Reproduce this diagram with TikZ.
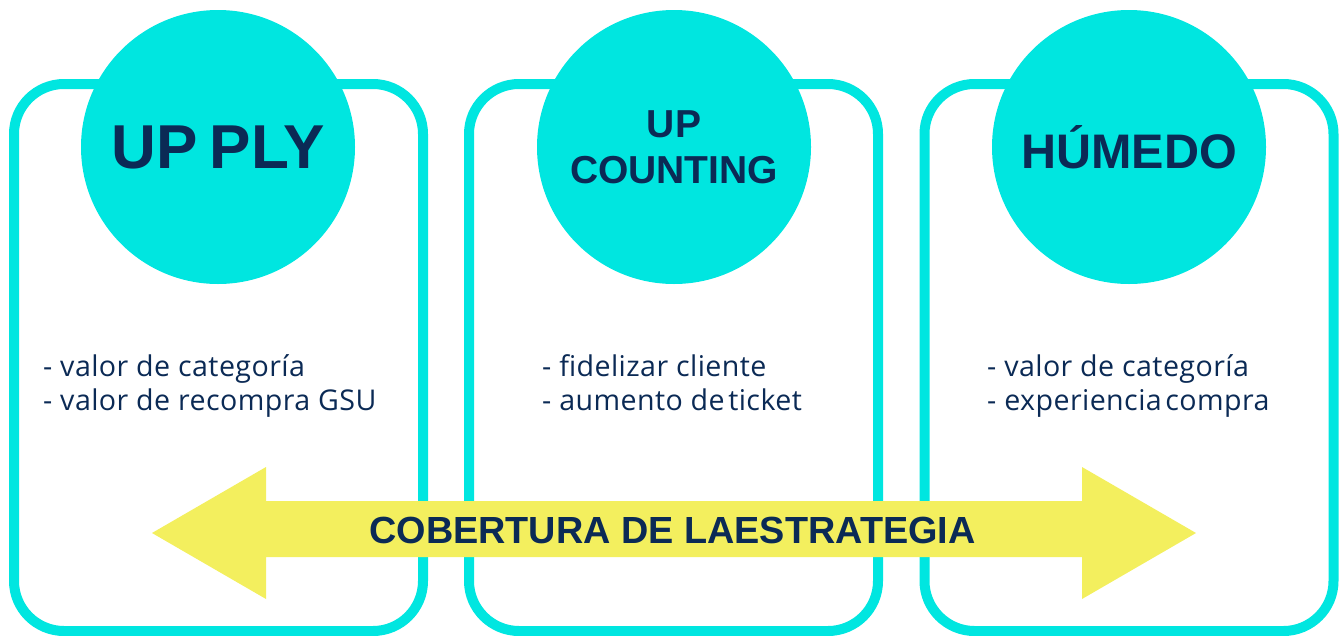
\documentclass[tikz,border=0pt]{standalone}
\usepackage{fontspec}
\setmainfont{Liberation Sans}
\newfontfamily\bulletfont[LetterSpace=1.5]{Open Sans}
\definecolor{cyanbox}{HTML}{00E6E0}
\definecolor{navy}{HTML}{0B2A55}
\definecolor{arrowyellow}{HTML}{F3EF5E}
\begin{document}
\begin{tikzpicture}[x=1pt,y=-1pt,
  box/.style={draw=cyanbox, line width=10pt, rounded corners=50pt, minimum width=409pt, minimum height=547pt, inner sep=0pt},
  circ/.style={circle, fill=cyanbox, minimum size=274pt, inner sep=0pt, text=navy, font=\bfseries, align=center},
  bullets/.style={anchor=base west, text=navy, align=left, inner sep=0pt, font=\bulletfont\fontsize{28.6}{34}\selectfont},
  arrowlabel/.style={text=navy, font=\bfseries\fontsize{37.8}{40}\selectfont, inner sep=0pt}]
\useasboundingbox (0,0) rectangle (1344,635);
% boxes
\node[box] (b1) at (218.5,357.5) {};
\node[box] (b2) at (673.5,357.5) {};
\node[box] (b3) at (1129,357.5) {};
% circles
\node[circ, font=\bfseries\fontsize{62}{64}\selectfont] (c1) at (218,147) {UP\kern-0.08em\ PLY};
\node[circ, font=\bfseries\fontsize{39}{46}\selectfont] (c2) at (674,147) {UP\\COUNTING};
\node[circ, font=\bfseries\fontsize{48.5}{52}\selectfont] (c3) at (1129,147) {HÚMEDO};
% bullet texts (anchor is the baseline of the last line)
\node[bullets] (t1) at (43,410) {- valor de categoría\\- valor de recompra GSU};
\node[bullets] (t2) at (542,410) {- fidelizar cliente\\- aumento de\kern-0.15em\ ticket};
\node[bullets] (t3) at (987,410) {- valor de categoría\\- experiencia\kern-0.15em\ compra};
% arrow
\fill[arrowyellow] (152,533) -- (266,467) -- (266,501) -- (1082,501) -- (1082,467)
  -- (1196,533) -- (1082,599) -- (1082,557) -- (266,557) -- (266,599) -- cycle;
\node[arrowlabel] (al) at (672.5,530) {COBERTURA DE LAESTRATEGIA};
\end{tikzpicture}
\end{document}
